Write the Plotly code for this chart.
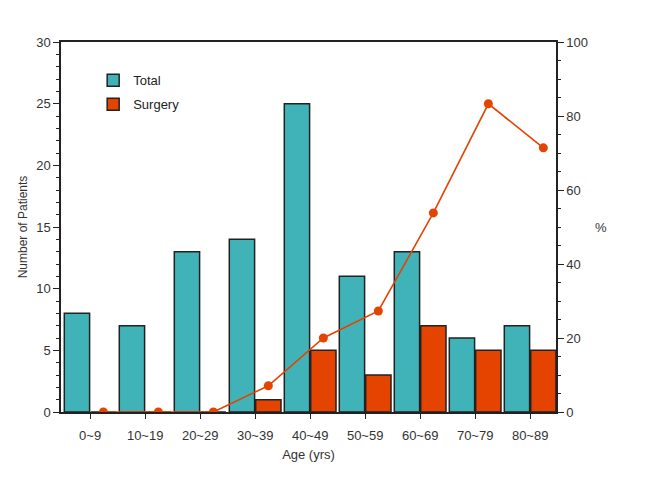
import plotly.graph_objects as go

categories = ["0~9", "10~19", "20~29", "30~39", "40~49", "50~59", "60~69", "70~79", "80~89"]
total = [8, 7, 13, 14, 25, 11, 13, 6, 7]
surgery = [0, 0, 0, 1, 5, 3, 7, 5, 5]
percent = [0, 0, 0, 7.1, 20.0, 27.3, 53.8, 83.3, 71.4]

idx = list(range(len(categories)))
teal = "#40b3b9"
orange = "#e54300"
dark = "#222222"

fig = go.Figure()
fig.add_trace(go.Bar(x=idx, y=total, name="Total", width=0.46, offset=-0.47,
                     legendgroup="a",
                     marker=dict(color=teal, line=dict(color=dark, width=1.5))))
fig.add_trace(go.Bar(x=idx, y=surgery, name="Surgery", width=0.46, offset=0.01,
                     legendgroup="b",
                     marker=dict(color=orange, line=dict(color=dark, width=1.5))))
fig.add_trace(go.Scatter(x=[i + 0.24 for i in idx], y=percent, yaxis="y2", mode="lines+markers",
                         line=dict(color=orange, width=1.6),
                         marker=dict(color=orange, size=9, symbol="circle"),
                         showlegend=False))

axis_font = dict(family="Liberation Sans, Arial, sans-serif", size=13, color="#333333")

fig.update_layout(
    width=672, height=480,
    margin=dict(l=53, r=124, t=34, b=76),
    paper_bgcolor="white", plot_bgcolor="white",
    font=axis_font,
    showlegend=True,
    legend=dict(x=0.065, y=0.937, xanchor="left", yanchor="top",
                bgcolor="rgba(0,0,0,0)", font=dict(size=13, color="#222222"),
                tracegroupgap=4, itemwidth=30),
    xaxis=dict(range=[-0.53, 8.47], tickmode="array", tickvals=idx, ticktext=categories,
               showline=True, linecolor=dark, linewidth=1.5, mirror=True,
               ticks="outside", ticklen=5, tickcolor=dark, showgrid=False, zeroline=False,
               ticklabelstandoff=6, automargin=False,
               title=dict(text="Age (yrs)", font=dict(size=13), standoff=8)),
    yaxis=dict(range=[0, 30], dtick=5, showline=True, linecolor=dark, linewidth=1.5,
               ticks="outside", ticklen=6, tickcolor=dark, showgrid=False, zeroline=False,
               automargin=False,
               minor=dict(dtick=1, ticks="outside", ticklen=3, tickcolor=dark),
               title=dict(text="Number of Patients", font=dict(size=12), standoff=6)),
    yaxis2=dict(range=[0, 100], dtick=20, overlaying="y", side="right",
                showline=True, linecolor=dark, linewidth=1.5, automargin=False,
                ticks="outside", ticklen=6, tickcolor=dark, showgrid=False, zeroline=False,
                minor=dict(dtick=5, ticks="outside", ticklen=3, tickcolor=dark)),
    annotations=[dict(text="%", x=1.107, y=0.5, xref="paper", yref="paper",
                      showarrow=False, font=dict(size=13, color="#333333"))],
)

fig.write_html("out.html")
